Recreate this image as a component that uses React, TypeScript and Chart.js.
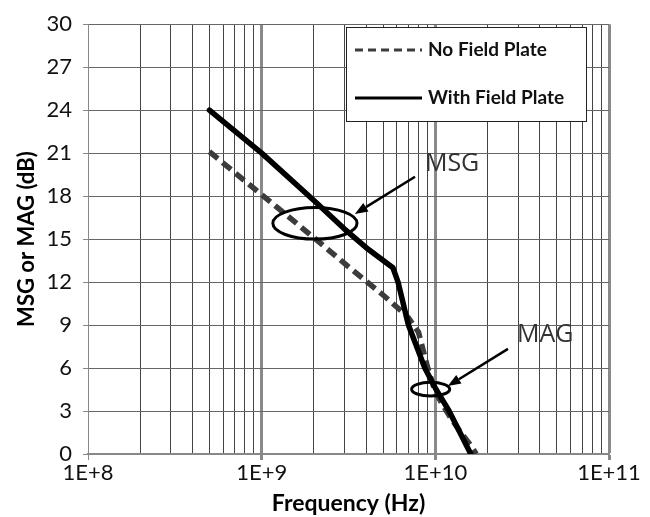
import React, { useEffect, useRef } from 'react';
import { Chart, registerables } from 'chart.js';

Chart.register(...registerables);

// ---- data ----
const freqNoFP = [5e8, 1e9, 2e9, 3e9, 5e9, 6.2e9, 7e9, 8e9, 9e9, 1e10, 1.2e10, 1.4e10, 1.6e10, 1.72e10];
const gainNoFP = [21.1, 18.1, 15.1, 13.3, 11.1, 10.1, 9.5, 8.5, 6.1, 4.3, 2.7, 1.5, 0.6, 0];

const freqWithFP = [5e8, 1e9, 2e9, 3e9, 4e9, 5.7e9, 6.1e9, 7e9, 8.7e9, 1e10, 1.2e10, 1.6e10];
const gainWithFP = [24, 21.0, 17.7, 15.7, 14.4, 13.0, 12.0, 9.0, 6.0, 4.6, 3.0, 0];

const seriesLabels = ['No Field Plate', 'With Field Plate'];

const yTickValues = [0, 3, 6, 9, 12, 15, 18, 21, 24, 27, 30];
const decadeValues = [1e8, 1e9, 1e10, 1e11];
const decadeLabels = ['1E+8', '1E+9', '1E+10', '1E+11'];
const minorMultipliers = [2, 3, 4, 5, 6, 7, 8, 9];

const xTitle = 'Frequency (Hz)';
const yTitle = 'MSG or MAG (dB)';

// annotations in data coordinates
const annotationTexts = ['MSG', 'MAG'];
const msgEllipse = { xMin: 1.16e9, xMax: 3.54e9, yMin: 15.0, yMax: 17.2 };
const magEllipse = { xMin: 7.3e9, xMax: 1.21e10, yMin: 4.05, yMax: 5.0 };
const msgArrow = { from: [7.64e9, 19.35], to: [3.44e9, 16.75] };
const magArrow = { from: [2.62e10, 7.34], to: [1.18e10, 4.74] };
const msgLabelPos = [8.71e9, 20.25];
const magLabelPos = [2.95e10, 8.3];

const xTickValues: number[] = [];
decadeValues.forEach((d, i) => {
  xTickValues.push(d);
  if (i < decadeValues.length - 1) minorMultipliers.forEach((m) => xTickValues.push(d * m));
});
xTickValues.sort((a, b) => a - b);

const decadeIndex = (v: number) => decadeValues.findIndex((d) => Math.abs(v / d - 1) < 1e-9);

const annotationPlugin = {
  id: 'annots',
  afterDatasetsDraw(chart: any) {
    const { ctx, scales } = chart;
    const xs = scales.x, ys = scales.y;
    const px = (v: number) => xs.getPixelForValue(v);
    const py = (v: number) => ys.getPixelForValue(v);
    ctx.save();
    ctx.strokeStyle = '#000';
    const ellipse = (e: any, lw: number) => {
      const x1 = px(e.xMin), x2 = px(e.xMax), y1 = py(e.yMax), y2 = py(e.yMin);
      ctx.beginPath();
      ctx.lineWidth = lw;
      ctx.ellipse((x1 + x2) / 2, (y1 + y2) / 2, (x2 - x1) / 2, (y2 - y1) / 2, 0, 0, Math.PI * 2);
      ctx.stroke();
    };
    ellipse(msgEllipse, 3);
    ellipse(magEllipse, 3);
    const arrow = (a: any) => {
      const fx = px(a.from[0]), fy = py(a.from[1]);
      const tx = px(a.to[0]), ty = py(a.to[1]);
      const ang = Math.atan2(ty - fy, tx - fx);
      const hl = 13, hw = 5;
      const bx = tx - hl * Math.cos(ang), by = ty - hl * Math.sin(ang);
      ctx.beginPath();
      ctx.lineWidth = 2.5;
      ctx.moveTo(fx, fy);
      ctx.lineTo(bx, by);
      ctx.stroke();
      ctx.beginPath();
      ctx.fillStyle = '#000';
      ctx.moveTo(tx, ty);
      ctx.lineTo(bx + hw * Math.sin(ang), by - hw * Math.cos(ang));
      ctx.lineTo(bx - hw * Math.sin(ang), by + hw * Math.cos(ang));
      ctx.closePath();
      ctx.fill();
    };
    arrow(msgArrow);
    arrow(magArrow);
    ctx.fillStyle = '#333';
    ctx.font = '25px "Open Sans"';
    ctx.textBaseline = 'middle';
    ctx.textAlign = 'left';
    ctx.fillText(annotationTexts[0], px(msgLabelPos[0]), py(msgLabelPos[1]));
    ctx.fillText(annotationTexts[1], px(magLabelPos[0]), py(magLabelPos[1]));
    ctx.restore();
  },
  afterDraw(chart: any) {
    const { ctx } = chart;
    const bx = 346, by = 27, bw = 240, bh = 94;
    ctx.save();
    ctx.fillStyle = '#fff';
    ctx.fillRect(bx, by, bw, bh);
    ctx.strokeStyle = '#222';
    ctx.lineWidth = 1;
    ctx.strokeRect(bx + 0.5, by + 0.5, bw, bh);
    const rows = [50, 98];
    chart.data.datasets.forEach((ds: any, i: number) => {
      const y = rows[i];
      ctx.beginPath();
      ctx.strokeStyle = ds.borderColor;
      ctx.lineWidth = 3;
      ctx.setLineDash(ds.borderDash && ds.borderDash.length ? [8, 5] : []);
      ctx.moveTo(355, y);
      ctx.lineTo(422, y);
      ctx.stroke();
      ctx.setLineDash([]);
      ctx.fillStyle = '#111';
      ctx.font = 'bold 19px Lato';
      ctx.textBaseline = 'middle';
      ctx.textAlign = 'left';
      ctx.fillText(ds.label, 428, y);
    });
    ctx.restore();
  },
};

export default function App() {
  const ref = useRef<HTMLCanvasElement>(null);
  useEffect(() => {
    if (!ref.current) return;
    const chart = new Chart(ref.current, {
      type: 'line',
      data: {
        datasets: [
          {
            label: seriesLabels[0],
            data: freqNoFP.map((f, i) => ({ x: f, y: gainNoFP[i] })),
            borderColor: '#3c3c3c',
            borderWidth: 5.5,
            borderDash: [11, 6],
            pointRadius: 0,
            tension: 0,
            order: 2,
          },
          {
            label: seriesLabels[1],
            data: freqWithFP.map((f, i) => ({ x: f, y: gainWithFP[i] })),
            borderColor: '#000',
            borderWidth: 5.5,
            borderCapStyle: 'round',
            borderJoinStyle: 'round',
            pointRadius: 0,
            tension: 0,
            order: 1,
          },
        ],
      },
      options: {
        animation: false,
        responsive: false,
        events: [],
        layout: { padding: { top: 17, right: 41, left: 0, bottom: 0 } },
        plugins: { legend: { display: false }, tooltip: { enabled: false } },
        scales: {
          x: {
            type: 'logarithmic',
            min: 1e8,
            max: 1e11,
            afterBuildTicks: (s: any) => {
              s.ticks = xTickValues.map((v) => ({ value: v }));
            },
            afterFit: (s: any) => {
              s.height = 63;
            },
            ticks: {
              autoSkip: false,
              maxRotation: 0,
              minRotation: 0,
              padding: 0,
              color: '#111',
              font: { family: 'Lato', size: 22 },
              callback: (v: any) => {
                const i = decadeIndex(Number(v));
                return i >= 0 ? decadeLabels[i] : '';
              },
            },
            grid: {
              color: (c: any) => {
                const i = c.tick ? decadeIndex(c.tick.value) : -1;
                return i > 0 ? '#8a8a8a' : i === 0 ? '#888' : '#444';
              },
              lineWidth: (c: any) => {
                const i = c.tick ? decadeIndex(c.tick.value) : -1;
                return i > 0 ? 3 : 1;
              },
              tickLength: 6,
              tickColor: (c: any) => {
                const i = c.tick ? decadeIndex(c.tick.value) : -1;
                return i >= 0 ? '#888' : 'rgba(0,0,0,0)';
              },
            },
            border: { color: '#888', width: 2 },
            title: {
              display: true,
              text: xTitle,
              color: '#000',
              font: { family: 'Lato', size: 23, weight: 'bold' },
              padding: { top: 0, bottom: 0 },
            },
          },
          y: {
            min: 0,
            max: 30,
            afterBuildTicks: (s: any) => {
              s.ticks = yTickValues.map((v) => ({ value: v }));
            },
            afterFit: (s: any) => {
              s.width = 88;
            },
            ticks: {
              padding: 11,
              color: '#111',
              font: { family: 'Lato', size: 22 },
            },
            grid: { color: '#666', lineWidth: 1, tickLength: 5, tickColor: '#888' },
            border: { color: '#888', width: 1 },
            title: {
              display: true,
              text: yTitle,
              color: '#000',
              font: { family: 'Lato', size: 22, weight: 'bold' },
              padding: { top: 14, bottom: 0 },
            },
          },
        },
      },
      plugins: [annotationPlugin],
    } as any);
    return () => chart.destroy();
  }, []);
  return (
    <div style={{ position: 'fixed', left: 0, top: 0, width: 650, height: 517, background: '#fff' }}>
      <canvas ref={ref} width={650} height={517} style={{ width: 650, height: 517, display: 'block' }} />
    </div>
  );
}
